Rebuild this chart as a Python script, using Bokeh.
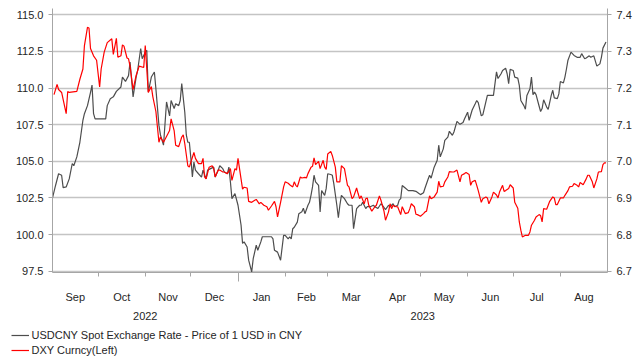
import pandas as pd
from bokeh.plotting import figure
from bokeh.layouts import column, row
from bokeh.models import (Range1d, LinearAxis, DatetimeAxis, FixedTicker,
                          PrintfTickFormatter, DatetimeTickFormatter, Legend,
                          LegendItem, ColumnDataSource, CustomJSTickFormatter)
from bokeh.embed import file_html
from bokeh.resources import INLINE

START = "2022-09-01"
END = "2023-09-01"

# DXY (left axis): day offset from START, value
dxy_day = [1, 3, 4, 6, 9, 10, 11, 16, 18, 20, 21, 23, 24, 25, 27, 29, 31, 32, 34, 36,
           39, 40, 42, 43, 45, 46, 47, 49, 50, 51, 53, 55, 57, 60, 61, 63, 65, 66, 68, 70,
           71, 73, 76, 77, 78, 80, 81, 83, 85, 86, 87, 89, 90, 91, 93, 94, 96, 98, 99, 100,
           101, 103, 105, 106, 107, 109, 110, 112, 113, 115, 117, 118, 120, 121, 122, 124, 125, 126, 128, 129,
           131, 133, 134, 136, 137, 139, 141, 142, 144, 146, 147, 148, 150, 152, 153, 155, 156, 158, 159, 160,
           161, 163, 164, 166, 167, 168, 170, 171, 172, 173, 175, 176, 178, 179, 180, 181, 183, 184, 186, 187,
           189, 190, 192, 193, 194, 195, 197, 198, 200, 201, 202, 203, 205, 206, 207, 208, 210, 212, 213, 215,
           216, 218, 219, 221, 222, 223, 224, 226, 227, 229, 230, 232, 234, 235, 236, 238, 239, 240, 242, 244,
           245, 246, 248, 249, 251, 253, 254, 255, 257, 258, 260, 261, 263, 264, 266, 268, 269, 271, 272, 274,
           275, 276, 278, 279, 280, 282, 283, 285, 286, 287, 289, 290, 292, 293, 294, 296, 297, 298, 300, 301,
           303, 304, 306, 307, 308, 309, 311, 313, 314, 315, 317, 318, 320, 321, 322, 323, 325, 326, 327, 329,
           330, 331, 332, 334, 336, 337, 339, 340, 342, 343, 345, 346, 347, 349, 351, 352, 353, 355, 356, 358,
           359, 361, 362, 363, 364]
dxy_value = [109.55, 110.25, 109.9, 109.7, 108.25, 109.77, 109.7, 109.77, 110.6, 111.3, 112.9, 114.14, 114.1, 112.7, 112.2, 111.9, 110.07, 111.3, 112.45, 113.1,
             113.36, 112.3, 113.4, 112.1, 112.2, 112.95, 112.86, 112.05, 112.0, 111.5, 109.9, 110.86, 111.5, 111.4, 112.9, 109.7, 110.1, 109.4, 108.4, 106.3,
             106.66, 106.3, 106.9, 107.1, 107.9, 107.1, 106.1, 106.0, 106.66, 106.8, 106.2, 104.7, 104.6, 104.95, 105.6, 105.2, 104.84, 104.84, 105.2, 103.93,
             103.8, 104.6, 104.7, 104.5, 103.93, 104.4, 104.4, 104.27, 104.27, 104.16, 104.5, 103.7, 104.5, 104.4, 105.2, 103.8, 103.1, 103.23, 103.18, 102.27,
             102.2, 102.34, 102.4, 102.1, 102.2, 102.0, 101.9, 101.66, 101.95, 102.27, 101.9, 101.2, 102.2, 103.25, 103.6, 103.5, 103.4, 103.25, 103.6, 103.36,
             103.25, 103.93, 103.86, 103.9, 103.86, 104.16, 104.6, 104.66, 105.23, 104.77, 105.0, 104.5, 105.07, 104.6, 104.45, 105.5, 105.68, 105.4, 104.6, 103.6,
             103.6, 104.7, 104.5, 103.93, 103.36, 103.25, 102.45, 102.57, 103.18, 102.8, 102.45, 102.64, 102.1, 102.45, 102.5, 102.0, 101.6, 101.9, 102.0, 102.64,
             102.34, 101.6, 100.98, 101.55, 102.1, 101.77, 102.0, 101.9, 101.9, 101.36, 101.9, 101.43, 101.5, 101.77, 102.1, 101.9, 101.39, 101.36, 101.25, 101.43,
             101.55, 101.6, 102.64, 102.45, 102.57, 102.9, 103.64, 103.25, 103.3, 103.6, 103.93, 104.3, 104.27, 104.27, 104.4, 103.6, 104.05, 104.16, 104.23, 104.1,
             103.36, 103.6, 103.7, 103.36, 103.0, 102.2, 102.45, 102.57, 102.5, 102.1, 102.57, 102.9, 102.7, 102.5, 102.9, 103.36, 102.95, 103.0, 103.14, 103.4,
             103.18, 102.2, 101.8, 100.86, 100.3, 99.84, 99.95, 99.95, 100.18, 100.64, 100.98, 101.2, 101.36, 101.3, 100.86, 101.77, 101.73, 102.0, 102.27, 102.57,
             102.5, 102.05, 102.05, 102.5, 102.5, 102.68, 103.0, 103.25, 103.3, 103.48, 103.36, 103.25, 103.55, 103.4, 103.8, 104.05, 104.05, 103.6, 103.18, 103.8,
             104.27, 104.3, 104.77, 104.9, 104.9]

# USDCNY (right axis): day offset from START, value
cny_day = [0, 2, 4, 6, 7, 9, 11, 13, 14, 16, 18, 20, 21, 23, 25, 26, 27, 28, 35, 36,
           38, 40, 42, 45, 46, 48, 50, 51, 53, 55, 56, 58, 59, 61, 62, 63, 65, 67, 68, 70,
           71, 73, 75, 77, 78, 80, 81, 83, 84, 85, 87, 88, 89, 90, 91, 92, 93, 94, 96, 98,
           99, 101, 102, 104, 106, 107, 109, 110, 112, 113, 115, 116, 117, 118, 120, 122, 124, 125, 126, 128,
           129, 131, 132, 134, 135, 137, 138, 144, 145, 146, 148, 150, 152, 153, 155, 156, 157, 158, 159, 161,
           162, 164, 165, 166, 168, 169, 170, 171, 172, 173, 175, 176, 177, 179, 180, 181, 183, 184, 185, 187,
           188, 189, 190, 192, 194, 195, 197, 198, 200, 202, 203, 204, 206, 207, 209, 211, 212, 214, 216, 217,
           219, 221, 222, 224, 225, 227, 228, 229, 230, 232, 234, 237, 239, 241, 242, 244, 245, 247, 248, 249,
           251, 253, 254, 255, 257, 258, 260, 261, 263, 264, 266, 268, 270, 271, 273, 274, 276, 278, 279, 280,
           282, 283, 285, 286, 288, 290, 292, 293, 295, 296, 298, 299, 300, 301, 303, 304, 306, 307, 308, 310,
           311, 312, 314, 315, 316, 317, 318, 320, 321, 322, 323, 325, 326, 328, 329, 330, 332, 333, 334, 336,
           337, 338, 339, 341, 343, 345, 347, 348, 350, 351, 353, 354, 356, 358, 360, 361, 362, 364]
cny_value = [6.900, 6.934, 6.966, 6.962, 6.928, 6.930, 6.952, 6.994, 6.988, 7.012, 7.052, 7.112, 7.130, 7.152, 7.188, 7.208, 7.130, 7.116, 7.116, 7.152,
             7.171, 7.176, 7.191, 7.203, 7.230, 7.218, 7.234, 7.271, 7.176, 7.230, 7.248, 7.308, 7.280, 7.298, 7.303, 7.189, 7.230, 7.244, 7.198, 7.098,
             7.072, 7.044, 7.162, 7.124, 7.166, 7.144, 7.157, 7.152, 7.166, 7.212, 7.134, 7.072, 7.052, 7.052, 7.008, 6.957, 6.998, 6.976, 6.966, 6.957,
             6.976, 6.952, 6.976, 6.980, 6.984, 6.957, 6.976, 6.988, 6.980, 6.971, 6.966, 6.984, 6.944, 6.898, 6.912, 6.880, 6.826, 6.776, 6.780, 6.766,
             6.730, 6.698, 6.734, 6.771, 6.757, 6.780, 6.794, 6.794, 6.788, 6.757, 6.752, 6.730, 6.798, 6.798, 6.788, 6.794, 6.788, 6.816, 6.820, 6.834,
             6.857, 6.862, 6.872, 6.857, 6.880, 6.888, 6.907, 6.930, 6.962, 6.944, 6.934, 6.862, 6.920, 6.907, 6.926, 6.966, 6.964, 6.962, 6.939, 6.880,
             6.846, 6.880, 6.907, 6.898, 6.884, 6.880, 6.880, 6.816, 6.871, 6.880, 6.880, 6.888, 6.871, 6.876, 6.876, 6.880, 6.876, 6.871, 6.884, 6.880,
             6.868, 6.880, 6.876, 6.884, 6.876, 6.880, 6.894, 6.898, 6.934, 6.927, 6.920, 6.920, 6.918, 6.912, 6.909, 6.914, 6.927, 6.951, 6.962, 6.954,
             6.984, 7.003, 7.044, 7.012, 7.034, 7.057, 7.066, 7.082, 7.071, 7.080, 7.109, 7.101, 7.106, 7.116, 7.134, 7.112, 7.140, 7.157, 7.166, 7.160,
             7.124, 7.127, 7.162, 7.180, 7.180, 7.180, 7.244, 7.226, 7.239, 7.248, 7.254, 7.239, 7.212, 7.251, 7.248, 7.230, 7.227, 7.207, 7.166, 7.152,
             7.142, 7.180, 7.198, 7.230, 7.182, 7.189, 7.182, 7.151, 7.136, 7.144, 7.168, 7.148, 7.142, 7.180, 7.194, 7.173, 7.171, 7.184, 7.218, 7.214,
             7.230, 7.252, 7.276, 7.298, 7.289, 7.284, 7.284, 7.294, 7.280, 7.282, 7.288, 7.284, 7.288, 7.260, 7.266, 7.284, 7.309, 7.326]

left_ticks = [97.5, 100.0, 102.5, 105.0, 107.5, 110.0, 112.5, 115.0]
right_ticks = [6.7, 6.8, 6.9, 7.0, 7.1, 7.2, 7.3, 7.4]
left_range = (97.411, 115.43)
right_range = (6.6964, 7.4172)

cny_label = "USDCNY Spot Exchange Rate - Price of 1 USD in CNY"
dxy_label = "DXY Curncy(Left)"

FONT = "Liberation Sans"
AXIS_GRAY = "#a6a6a6"
TEXT = "#262626"
CNY_COLOR = "#4d4d4d"
DXY_COLOR = "#ff0000"

start = pd.Timestamp(START)
end = pd.Timestamp(END)


def ms(ts):
    return ts.value / 1e6


dxy_src = ColumnDataSource(dict(date=start + pd.to_timedelta(dxy_day, unit="D"), value=dxy_value))
cny_src = ColumnDataSource(dict(date=start + pd.to_timedelta(cny_day, unit="D"), value=cny_value))

months = pd.date_range(START, END, freq="MS")
bounds = [ms(t) for t in months]
mids = [(a + b) / 2 for a, b in zip(bounds[:-1], bounds[1:])]
jan = [ms(t) for t in months if t.month == 1]
year_mids = [(bounds[0] + jan[0]) / 2, (jan[0] + bounds[-1]) / 2]

p = figure(frame_width=555, frame_height=264, x_axis_type="datetime",
           x_range=Range1d(start.to_pydatetime(), end.to_pydatetime()),
           y_range=Range1d(*left_range),
           output_backend="svg", toolbar_location=None,
           min_border_left=52, min_border_right=35, min_border_top=8, min_border_bottom=50)
p.outline_line_color = None
p.background_fill_color = "white"
p.border_fill_color = "white"
p.extra_y_ranges = {"cny": Range1d(*right_range)}

# grid
p.xgrid.grid_line_color = None
p.ygrid.ticker = FixedTicker(ticks=left_ticks)
p.ygrid.grid_line_color = "#c4c4c4"
p.ygrid.grid_line_width = 1.4


def style_y(ax):
    ax.formatter = PrintfTickFormatter(format="%.1f")
    ax.major_tick_out = 4
    ax.major_tick_in = 0
    ax.minor_tick_line_color = None
    ax.axis_line_color = AXIS_GRAY
    ax.major_tick_line_color = AXIS_GRAY
    ax.major_label_text_font = FONT
    ax.major_label_text_font_size = "11px"
    ax.major_label_text_color = TEXT
    ax.major_label_standoff = 5


ly = p.yaxis[0]
ly.ticker = FixedTicker(ticks=left_ticks)
style_y(ly)

ry = LinearAxis(y_range_name="cny", ticker=FixedTicker(ticks=right_ticks))
style_y(ry)
p.add_layout(ry, "right")

# bottom axis: month boundary ticks, long tick at year change (no labels)
xa = p.xaxis[0]
xa.ticker = FixedTicker(ticks=jan, minor_ticks=bounds[1:-1])
xa.formatter = CustomJSTickFormatter(code="return ''")
xa.major_tick_out = 9
xa.major_tick_in = 0
xa.minor_tick_out = 4
xa.minor_tick_in = 0
xa.axis_line_color = AXIS_GRAY
xa.major_tick_line_color = AXIS_GRAY
xa.minor_tick_line_color = AXIS_GRAY
xa.major_label_text_font_size = "0px"
xa.major_label_standoff = 0


def fmt(s):
    return DatetimeTickFormatter(microseconds=s, milliseconds=s, seconds=s, minsec=s,
                                 minutes=s, hourmin=s, hours=s, days=s, months=s, years=s)


def label_axis(ticks, f, standoff):
    ax = DatetimeAxis(ticker=FixedTicker(ticks=ticks), formatter=fmt(f))
    ax.axis_line_color = None
    ax.major_tick_line_color = None
    ax.minor_tick_line_color = None
    ax.major_tick_out = 0
    ax.major_tick_in = 0
    ax.major_label_standoff = standoff
    ax.major_label_text_font = FONT
    ax.major_label_text_font_size = "11px"
    ax.major_label_text_color = TEXT
    return ax


p.add_layout(label_axis(mids, "%b", 9), "below")
p.add_layout(label_axis(year_mids, "%Y", 6), "below")

p.line(x="date", y="value", source=cny_src, y_range_name="cny",
       line_color=CNY_COLOR, line_width=1.2)
p.line(x="date", y="value", source=dxy_src,
       line_color=DXY_COLOR, line_width=1.2)

# legend strip below the chart (same series, drawn outside its empty view)
lg = figure(width=642, height=40, output_backend="svg", toolbar_location=None,
            x_axis_location=None, y_axis_location=None,
            x_range=Range1d(0, 1), y_range=Range1d(0, 1),
            min_border=0, min_border_left=0, min_border_right=0,
            min_border_top=0, min_border_bottom=0)
lg.grid.visible = False
lg.outline_line_color = None
lg.background_fill_color = "white"
lg.border_fill_color = "white"
k_cny = lg.line(x="date", y="value", source=cny_src, line_color=CNY_COLOR, line_width=1.2)
k_dxy = lg.line(x="date", y="value", source=dxy_src, line_color=DXY_COLOR, line_width=1.2)
legend = Legend(items=[LegendItem(label=cny_label, renderers=[k_cny]),
                       LegendItem(label=dxy_label, renderers=[k_dxy])],
                orientation="vertical", location=(10.5, 6.5),
                border_line_color=None, background_fill_alpha=0,
                label_text_font=FONT, label_text_font_size="11px", label_text_color=TEXT,
                glyph_width=18, glyph_height=12, label_height=12, label_standoff=3,
                spacing=3, padding=2, margin=0)
lg.add_layout(legend, "center")

layout = column(p, row(lg), spacing=0)
open("out.html", "w").write(file_html(layout, INLINE))
